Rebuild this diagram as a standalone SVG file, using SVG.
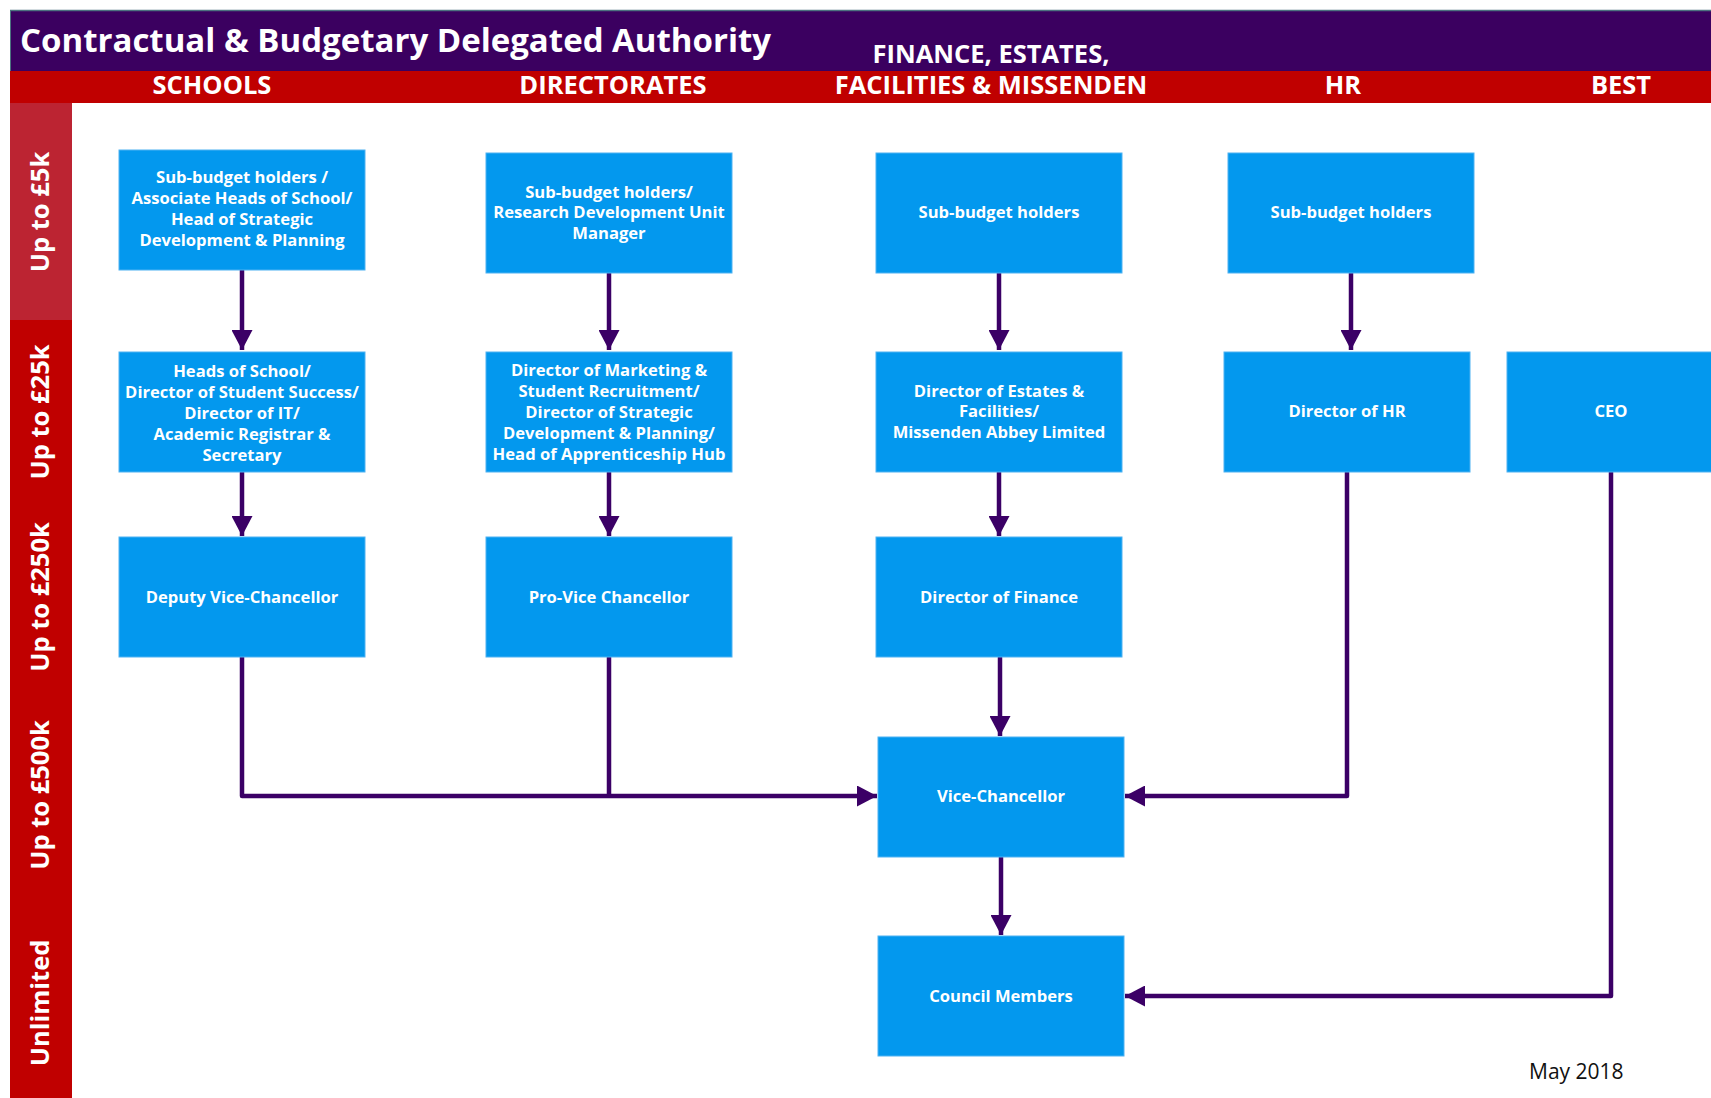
<svg xmlns="http://www.w3.org/2000/svg" width="1711" height="1098" viewBox="0 0 1711 1098">
<defs>
<marker id="arr" markerUnits="userSpaceOnUse" markerWidth="21" markerHeight="21" refX="20" refY="10.5" orient="auto">
<path d="M0,0 L20,10.5 L0,21 z" fill="#3B0066"/>
</marker>
<style>
.box{fill:#0398EE;stroke:#4FB2F2;stroke-width:1}
.bt{font-family:"Open Sans","Noto Sans",sans-serif;font-weight:700;font-size:16.6px;fill:#fff;text-anchor:middle}
.hd{font-family:"Open Sans","Noto Sans",sans-serif;font-weight:700;font-size:25.5px;fill:#fff;text-anchor:middle}
.rl{font-family:"Open Sans","Noto Sans",sans-serif;font-weight:700;font-size:25.5px;fill:#fff;text-anchor:middle}
.cn{fill:none;stroke:#3B0066;stroke-width:4.5;stroke-linejoin:round}
</style>
</defs>
<rect width="1711" height="1098" fill="#fff"/>
<g id="header">
<rect x="10" y="10" width="1701" height="61" fill="#3B0060"/>
<line x1="10" y1="10.5" x2="1711" y2="10.5" stroke="#4C7280" stroke-width="1.5"/>
<line x1="10.5" y1="10" x2="10.5" y2="71" stroke="#4C7280" stroke-width="1"/>
<rect x="10" y="71" width="1701" height="32" fill="#C00000"/>
<text x="20" y="52" font-family="'Open Sans','Noto Sans',sans-serif" font-weight="700" font-size="33" fill="#fff">Contractual &amp; Budgetary Delegated Authority</text>
<text class="hd" x="212" y="94">SCHOOLS</text>
<text class="hd" x="613" y="94">DIRECTORATES</text>
<text class="hd" x="991" y="63">FINANCE, ESTATES,</text>
<text class="hd" x="991" y="94">FACILITIES &amp; MISSENDEN</text>
<text class="hd" x="1343" y="94">HR</text>
<text class="hd" x="1621" y="94">BEST</text>
</g>
<g id="rows">
<rect x="10" y="103" width="62" height="217" fill="#BC2432"/>
<rect x="10" y="320" width="62" height="778" fill="#C00000"/>
<text class="rl" transform="translate(49,212) rotate(-90)">Up to £5k</text>
<text class="rl" transform="translate(49,412) rotate(-90)">Up to £25k</text>
<text class="rl" transform="translate(49,597) rotate(-90)">Up to £250k</text>
<text class="rl" transform="translate(49,795) rotate(-90)">Up to £500k</text>
<text class="rl" transform="translate(49,1003) rotate(-90)">Unlimited</text>
</g>
<g id="connectors">
<path class="cn" d="M242,270 V350" marker-end="url(#arr)"/>
<path class="cn" d="M242,472 V536" marker-end="url(#arr)"/>
<path class="cn" d="M609,273 V350" marker-end="url(#arr)"/>
<path class="cn" d="M609,472 V536" marker-end="url(#arr)"/>
<path class="cn" d="M999,273 V350" marker-end="url(#arr)"/>
<path class="cn" d="M999,472 V536" marker-end="url(#arr)"/>
<path class="cn" d="M1351,273 V350" marker-end="url(#arr)"/>
<path class="cn" d="M242,657 V796 H877" marker-end="url(#arr)"/>
<path class="cn" d="M609,657 V796"/>
<path class="cn" d="M1000,657 V736" marker-end="url(#arr)"/>
<path class="cn" d="M1347,472 V796 H1125" marker-end="url(#arr)"/>
<path class="cn" d="M1001,857 V935" marker-end="url(#arr)"/>
<path class="cn" d="M1611,472 V996 H1125" marker-end="url(#arr)"/>
</g>
<g id="s1"><rect class="box" x="119" y="150" width="246" height="120"/>
<text class="bt" x="242" y="183">Sub-budget holders /</text>
<text class="bt" x="242" y="204">Associate Heads of School/</text>
<text class="bt" x="242" y="225">Head of Strategic</text>
<text class="bt" x="242" y="246">Development &amp; Planning</text></g>
<g id="s2"><rect class="box" x="119" y="352" width="246" height="120"/>
<text class="bt" x="242" y="377">Heads of School/</text>
<text class="bt" x="242" y="398">Director of Student Success/</text>
<text class="bt" x="242" y="419">Director of IT/</text>
<text class="bt" x="242" y="440">Academic Registrar &amp;</text>
<text class="bt" x="242" y="461">Secretary</text></g>
<g id="s3"><rect class="box" x="119" y="537" width="246" height="120"/>
<text class="bt" x="242" y="603">Deputy Vice-Chancellor</text></g>
<g id="d1"><rect class="box" x="486" y="153" width="246" height="120"/>
<text class="bt" x="609" y="198">Sub-budget holders/</text>
<text class="bt" x="609" y="218">Research Development Unit</text>
<text class="bt" x="609" y="239">Manager</text></g>
<g id="d2"><rect class="box" x="486" y="352" width="246" height="120"/>
<text class="bt" x="609" y="376">Director of Marketing &amp;</text>
<text class="bt" x="609" y="397">Student Recruitment/</text>
<text class="bt" x="609" y="418">Director of Strategic</text>
<text class="bt" x="609" y="439">Development &amp; Planning/</text>
<text class="bt" x="609" y="460">Head of Apprenticeship Hub</text></g>
<g id="d3"><rect class="box" x="486" y="537" width="246" height="120"/>
<text class="bt" x="609" y="603">Pro-Vice Chancellor</text></g>
<g id="f1"><rect class="box" x="876" y="153" width="246" height="120"/>
<text class="bt" x="999" y="218">Sub-budget holders</text></g>
<g id="f2"><rect class="box" x="876" y="352" width="246" height="120"/>
<text class="bt" x="999" y="397">Director of Estates &amp;</text>
<text class="bt" x="999" y="417">Facilities/</text>
<text class="bt" x="999" y="438">Missenden Abbey Limited</text></g>
<g id="f3"><rect class="box" x="876" y="537" width="246" height="120"/>
<text class="bt" x="999" y="603">Director of Finance</text></g>
<g id="h1"><rect class="box" x="1228" y="153" width="246" height="120"/>
<text class="bt" x="1351" y="218">Sub-budget holders</text></g>
<g id="h2"><rect class="box" x="1224" y="352" width="246" height="120"/>
<text class="bt" x="1347" y="417">Director of HR</text></g>
<g id="ceo"><rect class="box" x="1507" y="352" width="210" height="120"/>
<text class="bt" x="1611" y="417">CEO</text></g>
<g id="vc"><rect class="box" x="878" y="737" width="246" height="120"/>
<text class="bt" x="1001" y="802">Vice-Chancellor</text></g>
<g id="council"><rect class="box" x="878" y="936" width="246" height="120"/>
<text class="bt" x="1001" y="1002">Council Members</text></g>
<text x="1529" y="1079" font-family="'Open Sans','Noto Sans',sans-serif" font-size="21" fill="#111">May 2018</text>
</svg>
